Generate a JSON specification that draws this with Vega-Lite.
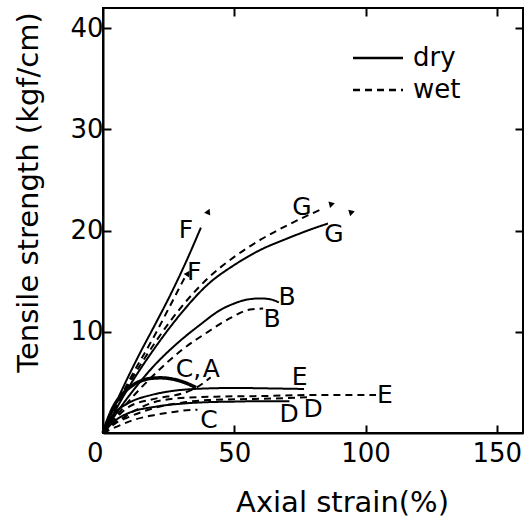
{
  "$schema": "https://vega.github.io/schema/vega-lite/v6.json",
  "width": 420,
  "height": 425,
  "autosize": {"type": "none"},
  "padding": {"left": 103, "top": 8, "right": 4, "bottom": 87},
  "background": "white",
  "config": {
    "view": {"stroke": "black", "strokeWidth": 2},
    "font": "DejaVu Sans",
    "axis": {"grid": false, "domainColor": "black", "domainWidth": 2, "tickColor": "black", "tickWidth": 2, "labelColor": "black", "titleColor": "black", "labelFont": "DejaVu Sans", "titleFont": "DejaVu Sans", "titleFontWeight": "normal"},
    "legend": {"labelFont": "DejaVu Sans"}
  },
  "datasets": {
    "curves": [
      {"curve": "F", "cond": "dry", "x": 0, "y": 0}, {"curve": "F", "cond": "dry", "x": 5, "y": 3.0}, {"curve": "F", "cond": "dry", "x": 13.3, "y": 7.5}, {"curve": "F", "cond": "dry", "x": 20, "y": 10.8}, {"curve": "F", "cond": "dry", "x": 24.8, "y": 13.2}, {"curve": "F", "cond": "dry", "x": 30.9, "y": 16.5}, {"curve": "F", "cond": "dry", "x": 37.3, "y": 20.3},
      {"curve": "F", "cond": "wet", "x": 0, "y": 0}, {"curve": "F", "cond": "wet", "x": 10, "y": 5.2}, {"curve": "F", "cond": "wet", "x": 20.2, "y": 9.9}, {"curve": "F", "cond": "wet", "x": 26.6, "y": 13.1}, {"curve": "F", "cond": "wet", "x": 31, "y": 15.3},
      {"curve": "G", "cond": "dry", "x": 0, "y": 0}, {"curve": "G", "cond": "dry", "x": 10, "y": 4.6}, {"curve": "G", "cond": "dry", "x": 20, "y": 8.5}, {"curve": "G", "cond": "dry", "x": 30, "y": 11.9}, {"curve": "G", "cond": "dry", "x": 40, "y": 14.7}, {"curve": "G", "cond": "dry", "x": 50, "y": 16.6}, {"curve": "G", "cond": "dry", "x": 60, "y": 18.1}, {"curve": "G", "cond": "dry", "x": 70, "y": 19.2}, {"curve": "G", "cond": "dry", "x": 80, "y": 20.2}, {"curve": "G", "cond": "dry", "x": 85.7, "y": 20.7},
      {"curve": "G", "cond": "wet", "x": 0, "y": 0}, {"curve": "G", "cond": "wet", "x": 10, "y": 4.9}, {"curve": "G", "cond": "wet", "x": 20, "y": 9.0}, {"curve": "G", "cond": "wet", "x": 30, "y": 12.5}, {"curve": "G", "cond": "wet", "x": 40, "y": 15.3}, {"curve": "G", "cond": "wet", "x": 50, "y": 17.4}, {"curve": "G", "cond": "wet", "x": 60, "y": 19.1}, {"curve": "G", "cond": "wet", "x": 70, "y": 20.5}, {"curve": "G", "cond": "wet", "x": 78, "y": 21.5}, {"curve": "G", "cond": "wet", "x": 84, "y": 22.2},
      {"curve": "B", "cond": "dry", "x": 0, "y": 0}, {"curve": "B", "cond": "dry", "x": 10, "y": 3.7}, {"curve": "B", "cond": "dry", "x": 20, "y": 6.8}, {"curve": "B", "cond": "dry", "x": 28, "y": 8.8}, {"curve": "B", "cond": "dry", "x": 36.5, "y": 10.6}, {"curve": "B", "cond": "dry", "x": 45, "y": 12.2}, {"curve": "B", "cond": "dry", "x": 50, "y": 12.8}, {"curve": "B", "cond": "dry", "x": 55.2, "y": 13.2}, {"curve": "B", "cond": "dry", "x": 60, "y": 13.3}, {"curve": "B", "cond": "dry", "x": 64, "y": 13.2}, {"curve": "B", "cond": "dry", "x": 67, "y": 12.9},
      {"curve": "B", "cond": "wet", "x": 0, "y": 0}, {"curve": "B", "cond": "wet", "x": 10, "y": 3.2}, {"curve": "B", "cond": "wet", "x": 20, "y": 5.9}, {"curve": "B", "cond": "wet", "x": 30, "y": 8.2}, {"curve": "B", "cond": "wet", "x": 40, "y": 10.0}, {"curve": "B", "cond": "wet", "x": 48.8, "y": 11.4}, {"curve": "B", "cond": "wet", "x": 56, "y": 12.2}, {"curve": "B", "cond": "wet", "x": 61, "y": 12.3},
      {"curve": "C", "cond": "dry", "x": 0, "y": 0}, {"curve": "C", "cond": "dry", "x": 4, "y": 2.6}, {"curve": "C", "cond": "dry", "x": 8, "y": 4.0}, {"curve": "C", "cond": "dry", "x": 11.8, "y": 4.8}, {"curve": "C", "cond": "dry", "x": 15, "y": 5.2}, {"curve": "C", "cond": "dry", "x": 18.3, "y": 5.4}, {"curve": "C", "cond": "dry", "x": 22, "y": 5.45}, {"curve": "C", "cond": "dry", "x": 27, "y": 5.3}, {"curve": "C", "cond": "dry", "x": 31, "y": 5.0}, {"curve": "C", "cond": "dry", "x": 35.4, "y": 4.5},
      {"curve": "C", "cond": "wet", "x": 0, "y": 0}, {"curve": "C", "cond": "wet", "x": 5, "y": 0.6}, {"curve": "C", "cond": "wet", "x": 11.8, "y": 1.3}, {"curve": "C", "cond": "wet", "x": 18, "y": 1.7}, {"curve": "C", "cond": "wet", "x": 24.8, "y": 2.0}, {"curve": "C", "cond": "wet", "x": 30, "y": 2.2}, {"curve": "C", "cond": "wet", "x": 36, "y": 2.3},
      {"curve": "A", "cond": "wet", "x": 0, "y": 0}, {"curve": "A", "cond": "wet", "x": 10, "y": 2.6}, {"curve": "A", "cond": "wet", "x": 20, "y": 3.4}, {"curve": "A", "cond": "wet", "x": 30, "y": 3.9}, {"curve": "A", "cond": "wet", "x": 35, "y": 4.4}, {"curve": "A", "cond": "wet", "x": 41, "y": 5.5},
      {"curve": "E", "cond": "dry", "x": 0, "y": 0}, {"curve": "E", "cond": "dry", "x": 5, "y": 2.1}, {"curve": "E", "cond": "dry", "x": 10, "y": 3.0}, {"curve": "E", "cond": "dry", "x": 18.3, "y": 3.75}, {"curve": "E", "cond": "dry", "x": 25, "y": 4.1}, {"curve": "E", "cond": "dry", "x": 34.7, "y": 4.35}, {"curve": "E", "cond": "dry", "x": 50, "y": 4.45}, {"curve": "E", "cond": "dry", "x": 65, "y": 4.4}, {"curve": "E", "cond": "dry", "x": 76.6, "y": 4.35},
      {"curve": "E", "cond": "wet", "x": 0, "y": 0}, {"curve": "E", "cond": "wet", "x": 4, "y": 1.0}, {"curve": "E", "cond": "wet", "x": 7, "y": 1.4}, {"curve": "E", "cond": "wet", "x": 12, "y": 2.2}, {"curve": "E", "cond": "wet", "x": 18.3, "y": 2.95}, {"curve": "E", "cond": "wet", "x": 29.7, "y": 3.45}, {"curve": "E", "cond": "wet", "x": 45, "y": 3.6}, {"curve": "E", "cond": "wet", "x": 60, "y": 3.65}, {"curve": "E", "cond": "wet", "x": 80, "y": 3.75}, {"curve": "E", "cond": "wet", "x": 104, "y": 3.75},
      {"curve": "D", "cond": "dry", "x": 0, "y": 0}, {"curve": "D", "cond": "dry", "x": 5, "y": 1.3}, {"curve": "D", "cond": "dry", "x": 10, "y": 2.0}, {"curve": "D", "cond": "dry", "x": 20, "y": 2.6}, {"curve": "D", "cond": "dry", "x": 30, "y": 2.9}, {"curve": "D", "cond": "dry", "x": 40, "y": 3.05}, {"curve": "D", "cond": "dry", "x": 50, "y": 3.1}, {"curve": "D", "cond": "dry", "x": 60, "y": 3.15}, {"curve": "D", "cond": "dry", "x": 71, "y": 3.15},
      {"curve": "D", "cond": "wet", "x": 0, "y": 0}, {"curve": "D", "cond": "wet", "x": 5, "y": 1.0}, {"curve": "D", "cond": "wet", "x": 10, "y": 1.6}, {"curve": "D", "cond": "wet", "x": 20, "y": 2.5}, {"curve": "D", "cond": "wet", "x": 30, "y": 3.0}, {"curve": "D", "cond": "wet", "x": 40, "y": 3.25}, {"curve": "D", "cond": "wet", "x": 55, "y": 3.35}, {"curve": "D", "cond": "wet", "x": 70, "y": 3.45}, {"curve": "D", "cond": "wet", "x": 79, "y": 3.55}
    ],
    "labels": [
      {"label": "F", "x": 31.6, "y": 20.1}, {"label": "F", "x": 34.7, "y": 15.9},
      {"label": "G", "x": 75.8, "y": 22.3}, {"label": "G", "x": 88, "y": 19.7},
      {"label": "B", "x": 70.1, "y": 13.4}, {"label": "B", "x": 64.4, "y": 11.3},
      {"label": "C,", "x": 32.6, "y": 6.3}, {"label": "A", "x": 41.3, "y": 6.3},
      {"label": "E", "x": 74.9, "y": 5.5}, {"label": "E", "x": 107.4, "y": 3.75},
      {"label": "D", "x": 70.9, "y": 1.9}, {"label": "D", "x": 80, "y": 2.4},
      {"label": "C", "x": 40.4, "y": 1.3}
    ],
    "arrows": [
      {"curve": "F", "cond": "dry", "x": 40, "y": 21.8},
      {"curve": "F", "cond": "wet", "x": 32.2, "y": 15.7},
      {"curve": "G", "cond": "wet", "x": 86.9, "y": 22.6},
      {"curve": "G", "cond": "dry", "x": 94.5, "y": 21.8}
    ]
  },
  "resolve": {"axis": {"x": "independent", "y": "independent"}},
  "layer": [
    {
      "data": {"name": "curves"},
      "mark": {"type": "line", "color": "black", "interpolate": "monotone"},
      "encoding": {
        "x": {"field": "x", "type": "quantitative", "scale": {"domain": [0, 160], "nice": false},
              "axis": {"orient": "bottom", "values": [0, 50, 100, 150], "tickSize": -8, "labelPadding": 15, "labelFontSize": 26,
                       "labelAlign": {"condition": {"test": "datum.value === 0", "value": "right"}, "value": "center"},
                       "title": "Axial strain(%)", "titleFontSize": 29, "titleX": 239, "titleY": 78, "titleBaseline": "alphabetic", "titleAlign": "center"}},
        "y": {"field": "y", "type": "quantitative", "scale": {"domain": [0, 42], "nice": false},
              "axis": {"orient": "left", "values": [10, 20, 30, 40], "tickSize": -8, "labelPadding": 8, "labelFontSize": 26,
                       "title": "Tensile strength (kgf/cm)", "titleFontSize": 29, "titleX": -66, "titleY": 184, "titleBaseline": "alphabetic", "titleAlign": "center", "titleAngle": 270}},
        "detail": {"field": "curve"},
        "strokeDash": {"field": "cond", "type": "nominal", "scale": {"domain": ["dry", "wet"], "range": [[1, 0], [7, 5]]},
                       "legend": {"orient": "none", "legendX": 262, "legendY": 37, "title": null, "symbolType": "M-2.5,0H2.5", "symbolSize": 400, "symbolStrokeWidth": 2.5, "symbolStrokeColor": "black", "labelFontSize": 26, "labelOffset": 22, "rowPadding": 6}},
        "strokeWidth": {"condition": {"test": "datum.curve === 'C' && datum.cond === 'dry'", "value": 3.5}, "value": 2}
      }
    },
    {
      "data": {"name": "labels"},
      "mark": {"type": "text", "fontSize": 25, "color": "black", "align": "center", "baseline": "middle"},
      "encoding": {
        "x": {"field": "x", "type": "quantitative", "scale": {"domain": [0, 160], "nice": false},
              "axis": {"orient": "top", "values": [50, 100, 150], "tickSize": -8, "labels": false, "title": null, "domain": false}},
        "y": {"field": "y", "type": "quantitative", "scale": {"domain": [0, 42], "nice": false},
              "axis": {"orient": "right", "values": [10, 20, 30, 40], "tickSize": -8, "labels": false, "title": null, "domain": false}},
        "text": {"field": "label"}
      }
    },
    {
      "data": {"name": "arrows"},
      "mark": {"type": "point", "shape": "triangle", "filled": true, "color": "black", "opacity": 1, "size": 45},
      "encoding": {
        "x": {"field": "x", "type": "quantitative", "axis": null},
        "y": {"field": "y", "type": "quantitative", "axis": null},
        "angle": {"condition": [
          {"test": "datum.curve === 'F' && datum.cond === 'dry'", "value": 24},
          {"test": "datum.curve === 'F' && datum.cond === 'wet'", "value": 32},
          {"test": "datum.curve === 'G' && datum.cond === 'wet'", "value": 76}
        ], "value": 73}
      }
    }
  ]
}
